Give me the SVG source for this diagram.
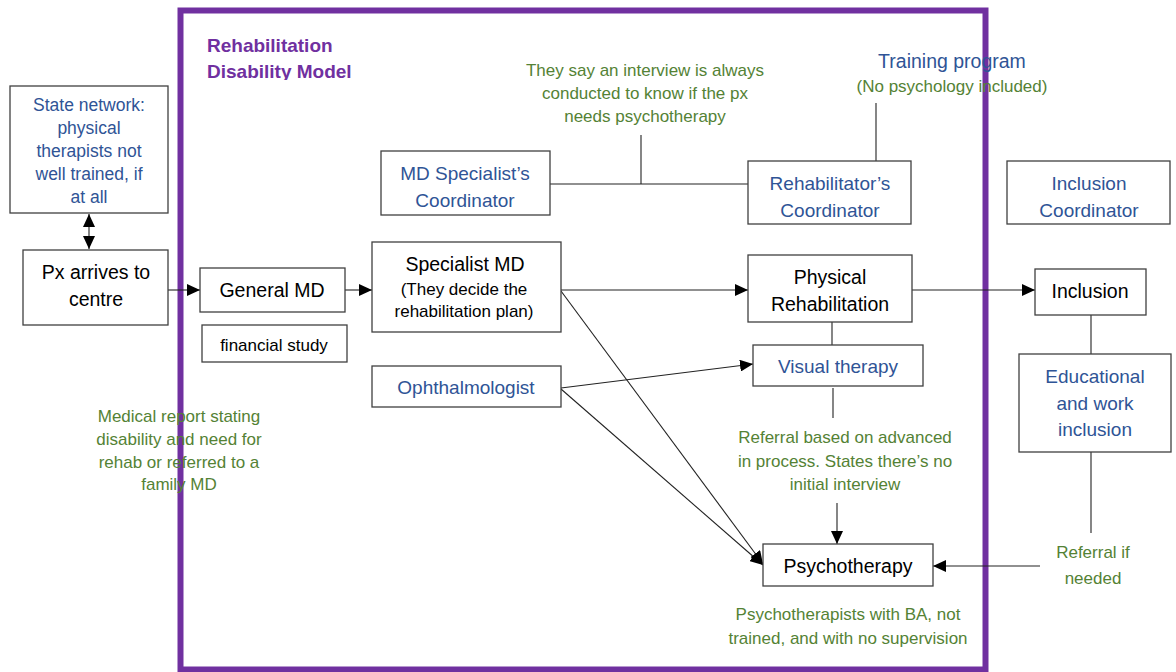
<svg xmlns="http://www.w3.org/2000/svg" width="1176" height="672" viewBox="0 0 1176 672">
  <style>
    text { font-family: "Liberation Sans", Arial, sans-serif; text-anchor: middle; }
    .box { fill: #ffffff; stroke: #404040; stroke-width: 1.3; }
    .big { font-size: 19.5px; fill: #000000; }
    .mid { font-size: 17px; fill: #000000; }
    .blue { font-size: 19px; fill: #2F5496; }
    .blue-s { font-size: 17.5px; fill: #2F5496; }
    .green { font-size: 17px; fill: #548235; }
    .title { font-size: 19px; font-weight: bold; fill: #7030A0; text-anchor: start; }
    .link { fill: none; stroke: #222222; stroke-width: 1.1; }
  </style>
  <defs>
    <marker id="arrow" markerUnits="userSpaceOnUse" markerWidth="14" markerHeight="12" refX="13" refY="6" orient="auto">
      <path d="M0,0 L13,6 L0,12 Z" fill="#000000"/>
    </marker>
    <marker id="arrow-start" markerUnits="userSpaceOnUse" markerWidth="14" markerHeight="12" refX="0" refY="6" orient="auto">
      <path d="M13,0 L0,6 L13,12 Z" fill="#000000"/>
    </marker>
    <clipPath id="title-clip">
      <rect x="200" y="25" width="200" height="55"/>
    </clipPath>
  </defs>

  <rect width="1176" height="672" fill="#ffffff"/>

  <!-- model frame -->
  <g id="model-frame">
    <rect x="180.5" y="10.5" width="805" height="659" fill="none" stroke="#7030A0" stroke-width="6"/>
    <g clip-path="url(#title-clip)">
      <text class="title" x="207" y="52">Rehabilitation</text>
      <text class="title" x="207" y="78">Disability Model</text>
    </g>
  </g>

  <!-- connectors -->
  <g id="connectors">
    <line class="link" x1="89" y1="214" x2="89" y2="249" marker-start="url(#arrow-start)" marker-end="url(#arrow)"/>
    <line class="link" x1="168" y1="290" x2="200" y2="290" marker-end="url(#arrow)"/>
    <line class="link" x1="345" y1="290" x2="372" y2="290" marker-end="url(#arrow)"/>
    <line class="link" x1="561" y1="290" x2="748" y2="290" marker-end="url(#arrow)"/>
    <line class="link" x1="912" y1="290" x2="1035" y2="290" marker-end="url(#arrow)"/>
    <line class="link" x1="550" y1="184" x2="748" y2="184"/>
    <line class="link" x1="641" y1="135" x2="641" y2="184"/>
    <line class="link" x1="876" y1="103" x2="876" y2="161"/>
    <line class="link" x1="832" y1="322" x2="832" y2="345"/>
    <line class="link" x1="833" y1="388" x2="833" y2="418"/>
    <line class="link" x1="837" y1="503" x2="837" y2="544" marker-end="url(#arrow)"/>
    <line class="link" x1="561" y1="388" x2="753" y2="364" marker-end="url(#arrow)"/>
    <line class="link" x1="561" y1="389" x2="763" y2="565" marker-end="url(#arrow)"/>
    <line class="link" x1="561" y1="291" x2="763" y2="564" marker-end="url(#arrow)"/>
    <line class="link" x1="1091" y1="315" x2="1091" y2="354"/>
    <line class="link" x1="1091" y1="452" x2="1091" y2="533"/>
    <line class="link" x1="1040" y1="566" x2="933" y2="566" marker-end="url(#arrow)"/>
  </g>

  <!-- nodes -->
  <g id="state-network">
    <rect class="box" x="10" y="86" width="158" height="127"/>
    <text class="blue-s" x="89" y="111">State network:</text>
    <text class="blue-s" x="89" y="134">physical</text>
    <text class="blue-s" x="89" y="157">therapists not</text>
    <text class="blue-s" x="89" y="180">well trained, if</text>
    <text class="blue-s" x="89" y="203">at all</text>
  </g>

  <g id="px-arrives">
    <rect class="box" x="23" y="250" width="145" height="75"/>
    <text class="big" x="96" y="279">Px arrives to</text>
    <text class="big" x="96" y="306">centre</text>
  </g>

  <g id="general-md">
    <rect class="box" x="200" y="268" width="145" height="44"/>
    <text class="big" x="272" y="297">General MD</text>
  </g>

  <g id="financial-study">
    <rect class="box" x="202" y="325" width="145" height="37"/>
    <text class="mid" x="274" y="351">financial study</text>
  </g>

  <g id="specialist-md">
    <rect class="box" x="372" y="242" width="189" height="90"/>
    <text class="big" x="465" y="271">Specialist MD</text>
    <text class="mid" x="464" y="295">(They decide the</text>
    <text class="mid" x="464" y="317">rehabilitation plan)</text>
  </g>

  <g id="md-specialist-coordinator">
    <rect class="box" x="381" y="151" width="169" height="64"/>
    <text class="blue" x="465" y="180">MD Specialist’s</text>
    <text class="blue" x="465" y="207">Coordinator</text>
  </g>

  <g id="interview-note">
    <text class="green" x="645" y="76">They say an interview is always</text>
    <text class="green" x="645" y="99">conducted to know if the px</text>
    <text class="green" x="645" y="122">needs psychotherapy</text>
  </g>

  <g id="rehabilitator-coordinator">
    <rect class="box" x="748" y="161" width="163" height="63"/>
    <text class="blue" x="830" y="190">Rehabilitator’s</text>
    <text class="blue" x="830" y="217">Coordinator</text>
  </g>

  <g id="training-program">
    <text class="blue" x="952" y="68" style="font-size:19.5px">Training program</text>
    <text class="green" x="952" y="92">(No psychology included)</text>
  </g>

  <g id="inclusion-coordinator">
    <rect class="box" x="1007" y="161" width="163" height="63"/>
    <text class="blue" x="1089" y="190">Inclusion</text>
    <text class="blue" x="1089" y="217">Coordinator</text>
  </g>

  <g id="physical-rehabilitation">
    <rect class="box" x="748" y="255" width="164" height="67"/>
    <text class="big" x="830" y="284">Physical</text>
    <text class="big" x="830" y="311">Rehabilitation</text>
  </g>

  <g id="inclusion">
    <rect class="box" x="1035" y="269" width="111" height="46"/>
    <text class="big" x="1090" y="298">Inclusion</text>
  </g>

  <g id="educational-work-inclusion">
    <rect class="box" x="1019" y="354" width="152" height="98"/>
    <text class="blue" x="1095" y="383">Educational</text>
    <text class="blue" x="1095" y="410">and work</text>
    <text class="blue" x="1095" y="436">inclusion</text>
  </g>

  <g id="referral-if-needed">
    <text class="green" x="1093" y="558">Referral if</text>
    <text class="green" x="1093" y="584">needed</text>
  </g>

  <g id="ophthalmologist">
    <rect class="box" x="372" y="366" width="189" height="41"/>
    <text class="blue" x="466" y="394">Ophthalmologist</text>
  </g>

  <g id="visual-therapy">
    <rect class="box" x="753" y="345" width="170" height="41"/>
    <text class="blue" x="838" y="373">Visual therapy</text>
  </g>

  <g id="referral-note">
    <text class="green" x="845" y="443">Referral based on advanced</text>
    <text class="green" x="845" y="467">in process. States there’s no</text>
    <text class="green" x="845" y="490">initial interview</text>
  </g>

  <g id="psychotherapy">
    <rect class="box" x="763" y="544" width="170" height="42"/>
    <text class="big" x="848" y="573">Psychotherapy</text>
  </g>

  <g id="psychotherapists-note">
    <text class="green" x="848" y="620">Psychotherapists with BA, not</text>
    <text class="green" x="848" y="644">trained, and with no supervision</text>
  </g>

  <g id="medical-report-note">
    <text class="green" x="179" y="422">Medical report stating</text>
    <text class="green" x="179" y="445">disability and need for</text>
    <text class="green" x="179" y="468">rehab or referred to a</text>
    <text class="green" x="179" y="490">family MD</text>
  </g>
</svg>
